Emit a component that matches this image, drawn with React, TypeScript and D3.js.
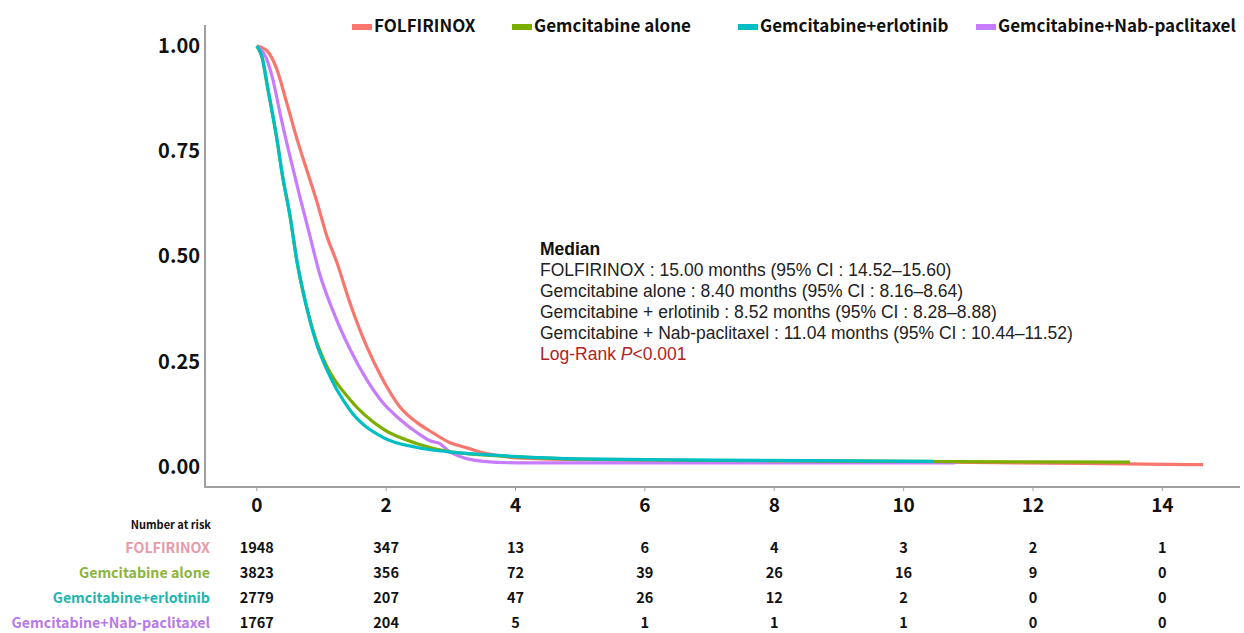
import React, { useRef, useEffect } from "react";
import * as d3 from "d3";

const WIDTH = 1244;
const HEIGHT = 633;
const KOR_FONT = "'Noto Sans CJK KR', 'Noto Sans', sans-serif";
const ARIAL = "'Liberation Sans', Arial, sans-serif";

const GROUPS = [
  "FOLFIRINOX",
  "Gemcitabine alone",
  "Gemcitabine+erlotinib",
  "Gemcitabine+Nab-paclitaxel",
];
const LINE_COLORS = ["#F8766D", "#7CAE00", "#00BFC4", "#C77CFF"];
const RISK_LABEL_COLORS = ["#E79AA8", "#8DB43C", "#22B5B0", "#B57BE9"];

// survival curves, [months, survival]
const folfirinox: [number, number][] = [
  [0, 1.0], [0.15, 0.99], [0.31, 0.945], [0.46, 0.867], [0.62, 0.78],
  [0.77, 0.707], [0.93, 0.63], [1.08, 0.55], [1.24, 0.485], [1.44, 0.39],
  [1.7, 0.286], [1.95, 0.207], [2.21, 0.143], [2.48, 0.105], [2.72, 0.081],
  [2.99, 0.057], [3.25, 0.045], [3.5, 0.033], [3.76, 0.026], [4.02, 0.021],
  [5.0, 0.017], [6.86, 0.015], [9.95, 0.012], [12.77, 0.008], [14.63, 0.005],
];
const gemAlone: [number, number][] = [
  [0, 1.0], [0.08, 0.975], [0.17, 0.9], [0.31, 0.78], [0.4, 0.69],
  [0.51, 0.6], [0.62, 0.49], [0.77, 0.38], [0.93, 0.295], [1.08, 0.24],
  [1.44, 0.16], [1.95, 0.09], [2.48, 0.055], [2.94, 0.037], [3.96, 0.024],
  [5.0, 0.018], [7.06, 0.015], [9.95, 0.013], [13.5, 0.011],
];
const gemErlotinib: [number, number][] = [
  [0, 1.0], [0.08, 0.975], [0.17, 0.9], [0.31, 0.78], [0.4, 0.69],
  [0.51, 0.6], [0.62, 0.49], [0.77, 0.38], [0.93, 0.29], [1.08, 0.232],
  [1.44, 0.135], [1.95, 0.07], [2.48, 0.046], [2.94, 0.036], [3.96, 0.025],
  [5.0, 0.019], [7.06, 0.016], [10.46, 0.013],
];
const gemNab: [number, number][] = [
  [0, 1.0], [0.15, 0.97], [0.25, 0.92], [0.36, 0.84], [0.51, 0.74],
  [0.67, 0.64], [0.82, 0.55], [0.97, 0.46], [1.18, 0.37], [1.44, 0.28],
  [1.7, 0.207], [1.95, 0.152], [2.22, 0.112], [2.48, 0.081], [2.68, 0.062],
  [2.83, 0.055], [2.99, 0.035], [3.5, 0.013], [4.02, 0.0095], [10.8, 0.009],
];
const CURVES = [folfirinox, gemAlone, gemErlotinib, gemNab];
// draw order: bottom to top
const DRAW_ORDER = [0, 3, 1, 2];

const X_TICKS = [0, 2, 4, 6, 8, 10, 12, 14];
const Y_TICKS = [0, 0.25, 0.5, 0.75, 1.0];

const RISK_ROWS = [
  [1948, 347, 13, 6, 4, 3, 2, 1],
  [3823, 356, 72, 39, 26, 16, 9, 0],
  [2779, 207, 47, 26, 12, 2, 0, 0],
  [1767, 204, 5, 1, 1, 1, 0, 0],
];

const MEDIAN_LINES = [
  "FOLFIRINOX : 15.00 months (95% CI : 14.52\u201315.60)",
  "Gemcitabine alone : 8.40 months (95% CI : 8.16\u20138.64)",
  "Gemcitabine + erlotinib : 8.52 months (95% CI : 8.28\u20138.88)",
  "Gemcitabine + Nab-paclitaxel : 11.04 months (95% CI : 10.44\u201311.52)",
];

export default function App() {
  const svgRef = useRef<SVGSVGElement>(null);

  useEffect(() => {
    const svg = d3.select(svgRef.current);
    svg.selectAll("*").remove();

    const x = d3.scaleLinear().domain([-0.8, 15.2]).range([205, 1240]);
    const y = d3.scaleLinear().domain([-0.048, 1.05]).range([487, 25]);

    // curves
    const line = d3
      .line<[number, number]>()
      .x((d) => x(d[0]))
      .y((d) => y(d[1]))
      .curve(d3.curveMonotoneX);

    DRAW_ORDER.forEach((i) => {
      svg
        .append("path")
        .attr("d", line(CURVES[i]))
        .attr("fill", "none")
        .attr("stroke", LINE_COLORS[i])
        .attr("stroke-width", 3.2);
    });

    // axes
    svg
      .append("line")
      .attr("x1", 205)
      .attr("x2", 205)
      .attr("y1", 25)
      .attr("y2", 487)
      .attr("stroke", "#a0a0a0")
      .attr("stroke-width", 2);
    svg
      .append("line")
      .attr("x1", 204)
      .attr("x2", 1240)
      .attr("y1", 487)
      .attr("y2", 487)
      .attr("stroke", "#a0a0a0")
      .attr("stroke-width", 2);

    X_TICKS.forEach((t) => {
      svg
        .append("line")
        .attr("x1", x(t))
        .attr("x2", x(t))
        .attr("y1", 487)
        .attr("y2", 491)
        .attr("stroke", "#a0a0a0")
        .attr("stroke-width", 1);
      svg
        .append("text")
        .attr("x", x(t))
        .attr("y", 505)
        .attr("dy", "0.35em")
        .attr("text-anchor", "middle")
        .attr("font-family", KOR_FONT)
        .attr("font-weight", "bold")
        .attr("font-size", 19)
        .attr("fill", "#111")
        .text(t);
    });

    Y_TICKS.forEach((v) => {
      svg
        .append("text")
        .attr("x", 200)
        .attr("y", y(v))
        .attr("dy", "0.35em")
        .attr("text-anchor", "end")
        .attr("font-family", KOR_FONT)
        .attr("font-weight", "bold")
        .attr("font-size", 20)
        .attr("fill", "#111")
        .text(v.toFixed(2));
    });

    // legend
    const legendX = [352, 512, 738, 976];
    GROUPS.forEach((g, i) => {
      svg
        .append("rect")
        .attr("x", legendX[i])
        .attr("y", 24)
        .attr("width", 20)
        .attr("height", 6)
        .attr("fill", LINE_COLORS[i]);
      svg
        .append("text")
        .attr("x", legendX[i] + 22)
        .attr("y", 26)
        .attr("dy", "0.35em")
        .attr("font-family", KOR_FONT)
        .attr("font-weight", "bold")
        .attr("font-size", 17)
        .attr("fill", "#111")
        .text(g);
    });

    // median annotation
    const ann = svg
      .append("g")
      .attr("font-family", ARIAL)
      .attr("font-size", 17.5);
    ann
      .append("text")
      .attr("x", 540)
      .attr("y", 255)
      .attr("font-weight", "bold")
      .attr("fill", "#111")
      .text("Median");
    MEDIAN_LINES.forEach((s, i) => {
      ann
        .append("text")
        .attr("x", 540)
        .attr("y", 276 + i * 21)
        .attr("fill", "#222")
        .text(s);
    });
    const lr = ann
      .append("text")
      .attr("x", 540)
      .attr("y", 360)
      .attr("fill", "#B22222");
    lr.append("tspan").text("Log-Rank ");
    lr.append("tspan").attr("font-style", "italic").text("P");
    lr.append("tspan").text("<0.001");

    // number at risk table
    svg
      .append("text")
      .attr("x", 211)
      .attr("y", 525)
      .attr("dy", "0.35em")
      .attr("text-anchor", "end")
      .attr("font-family", KOR_FONT)
      .attr("font-weight", "bold")
      .attr("font-size", 11)
      .attr("fill", "#111")
      .text("Number at risk");

    const rowY = [548, 573, 598, 623];
    GROUPS.forEach((g, i) => {
      svg
        .append("text")
        .attr("x", 210)
        .attr("y", rowY[i])
        .attr("dy", "0.35em")
        .attr("text-anchor", "end")
        .attr("font-family", KOR_FONT)
        .attr("font-weight", "bold")
        .attr("font-size", 14.2)
        .attr("fill", RISK_LABEL_COLORS[i])
        .text(g);
      RISK_ROWS[i].forEach((n, j) => {
        svg
          .append("text")
          .attr("x", x(X_TICKS[j]))
          .attr("y", rowY[i])
          .attr("dy", "0.35em")
          .attr("text-anchor", "middle")
          .attr("font-family", KOR_FONT)
          .attr("font-weight", "bold")
          .attr("font-size", 14.5)
          .attr("fill", "#111")
          .text(n);
      });
    });
  }, []);

  return (
    <>
      <style>{`body{margin:0;background:#fff}`}</style>
      <svg ref={svgRef} width={WIDTH} height={HEIGHT} style={{ display: "block" }} />
    </>
  );
}
